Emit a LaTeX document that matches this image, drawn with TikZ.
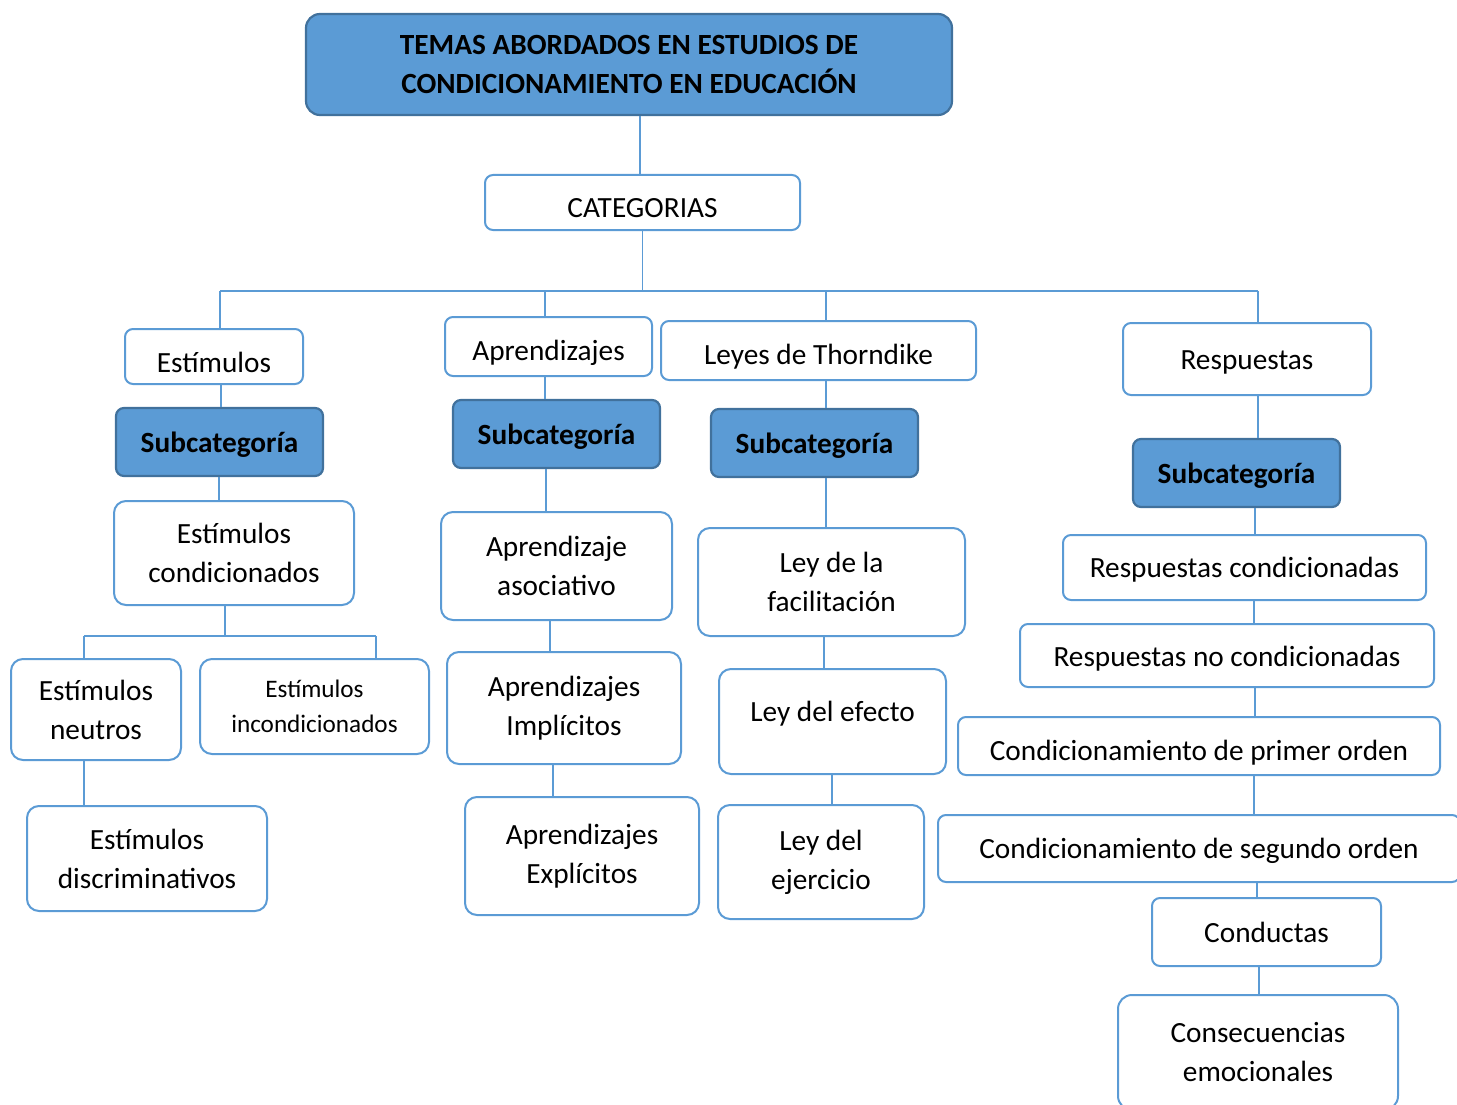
\documentclass[tikz,border=0pt]{standalone}
\usepackage{fontspec}
\setmainfont{Carlito}
\definecolor{boxblue}{HTML}{5B9BD5}
\definecolor{darkblue}{HTML}{41719C}
\begin{document}
\begin{tikzpicture}[x=1pt,y=-1pt]
        \tikzstyle{topic}=[rectangle,rounded corners=8pt,draw=boxblue,line width=2pt,fill=white,align=center,inner sep=0pt,font=\fontsize{29.3}{39}\selectfont]
        \tikzstyle{subcat}=[topic,draw=darkblue,fill=boxblue,line width=2.2pt,font=\fontsize{29.3}{39}\selectfont\bfseries]
        \tikzstyle{th}=[text height=#1,text depth=0pt]
        \tikzstyle{link}=[draw=boxblue,line width=1.3pt]
        \useasboundingbox (0,0) rectangle (1457,1105);
        % title and categories
        \node [subcat,rounded corners=14pt,minimum width=646pt,minimum height=101pt] (title) at (629,64.5) {TEMAS ABORDADOS EN ESTUDIOS DE\\CONDICIONAMIENTO EN EDUCACIÓN};
        \node [topic,th=31pt,minimum width=315pt,minimum height=55pt] (cat) at (642.5,202.5) {CATEGORIAS};
        % column 1
        \node [topic,th=31pt,minimum width=178pt,minimum height=55pt] (est) at (214,356.5) {Estímulos};
        \node [subcat,th=20pt,minimum width=207pt,minimum height=68pt] (sub1) at (219.5,442) {Subcategoría};
        \node [topic,rounded corners=12pt,minimum width=240pt,minimum height=104pt] (ec) at (234,553) {Estímulos\\condicionados};
        \node [topic,rounded corners=12pt,minimum width=170pt,minimum height=101pt] (en) at (96,709.5) {Estímulos\\neutros};
        \node [topic,rounded corners=12pt,minimum width=229pt,minimum height=95pt,font=\fontsize{25.2}{35}\selectfont] (ei) at (314.5,706.5) {Estímulos\\incondicionados};
        \node [topic,rounded corners=12pt,minimum width=240pt,minimum height=105pt] (ed) at (147,858.5) {Estímulos\\discriminativos};
        % column 2
        \node [topic,th=27pt,minimum width=207pt,minimum height=59pt] (apr) at (548.5,346.5) {Aprendizajes};
        \node [subcat,th=20pt,minimum width=207pt,minimum height=68pt] (sub2) at (556.5,434) {Subcategoría};
        \node [topic,rounded corners=12pt,minimum width=231pt,minimum height=108pt] (aa) at (556.5,566) {Aprendizaje\\asociativo};
        \node [topic,rounded corners=12pt,minimum width=234pt,minimum height=112pt] (ai) at (564,708) {Aprendizajes\\Implícitos};
        \node [topic,rounded corners=12pt,minimum width=234pt,minimum height=118pt] (ae) at (582,856) {Aprendizajes\\Explícitos};
        % column 3
        \node [topic,th=27pt,minimum width=315pt,minimum height=59pt] (ley) at (818.5,350.5) {Leyes de Thorndike};
        \node [subcat,th=20pt,minimum width=207pt,minimum height=68pt] (sub3) at (814.5,443) {Subcategoría};
        \node [topic,rounded corners=12pt,minimum width=267pt,minimum height=108pt] (lf) at (831.5,582) {Ley de la\\facilitación};
        \node [topic,th=0pt,rounded corners=12pt,minimum width=227pt,minimum height=105pt] (lef) at (832.5,721.5) {Ley del efecto};
        \node [topic,rounded corners=12pt,minimum width=206pt,minimum height=114pt] (lej) at (821,862) {Ley del\\ejercicio};
        % column 4
        \node [topic,th=20pt,minimum width=248pt,minimum height=72pt] (res) at (1247,359) {Respuestas};
        \node [subcat,th=20pt,minimum width=207pt,minimum height=68pt] (sub4) at (1236.5,473) {Subcategoría};
        \node [topic,th=19pt,minimum width=363pt,minimum height=65pt] (rc) at (1244.5,567.5) {Respuestas condicionadas};
        \node [topic,th=21pt,minimum width=414pt,minimum height=63pt] (rnc) at (1227,655.5) {Respuestas no condicionadas};
        \node [topic,th=28pt,minimum width=482pt,minimum height=58pt] (cpo) at (1199,746) {Condicionamiento de primer orden};
        \node [topic,th=20pt,minimum width=522pt,minimum height=67pt] (cso) at (1199,848.5) {Condicionamiento de segundo orden};
        \node [topic,th=20pt,minimum width=229pt,minimum height=68pt] (con) at (1266.5,932) {Conductas};
        \node [topic,rounded corners=14pt,minimum width=280pt,minimum height=115pt] (ce) at (1258,1052.5) {Consecuencias\\emocionales};
        % tree bars
        \coordinate (b1) at (220,291);
        \coordinate (b2) at (545,291);
        \coordinate (b3) at (826,291);
        \coordinate (b4) at (1258,291);
        \coordinate (e0) at (225,636);
        \coordinate (e1) at (84,636);
        \coordinate (e2) at (376,636);
        \draw[link] ([xshift=11pt]title.south) -- ([xshift=-2.5pt]cat.north);
        \draw[link] (cat.south) -- (cat.south |- b1);
        \draw[link] (b1) -- (b4);
        \draw[link] (b1) -- (b1 |- est.north);
        \draw[link] (b2) -- (b2 |- apr.north);
        \draw[link] (b3) -- (b3 |- ley.north);
        \draw[link] (b4) -- (b4 |- res.north);
        \draw[link] ([xshift=7pt]est.south) -- ([xshift=1.5pt]sub1.north);
        \draw[link] ([xshift=-0.5pt]sub1.south) -- ([xshift=-15pt]ec.north);
        \draw[link] ([xshift=-9pt]ec.south) -- (e0);
        \draw[link] (e1) -- (e2);
        \draw[link] (e1) -- (e1 |- en.north);
        \draw[link] (e2) -- (e2 |- ei.north);
        \draw[link] ([xshift=-12pt]en.south) -- ([xshift=-63pt]ed.north);
        \draw[link] ([xshift=-3.5pt]apr.south) -- ([xshift=-11.5pt]sub2.north);
        \draw[link] ([xshift=-10.5pt]sub2.south) -- ([xshift=-10.5pt]aa.north);
        \draw[link] ([xshift=-6.5pt]aa.south) -- ([xshift=-14pt]ai.north);
        \draw[link] ([xshift=-11pt]ai.south) -- ([xshift=-29pt]ae.north);
        \draw[link] ([xshift=7.5pt]ley.south) -- ([xshift=11.5pt]sub3.north);
        \draw[link] ([xshift=11.5pt]sub3.south) -- ([xshift=-5.5pt]lf.north);
        \draw[link] ([xshift=-7.5pt]lf.south) -- ([xshift=-8.5pt]lef.north);
        \draw[link] ([xshift=-0.5pt]lef.south) -- ([xshift=11pt]lej.north);
        \draw[link] ([xshift=11pt]res.south) -- ([xshift=21.5pt]sub4.north);
        \draw[link] ([xshift=18.5pt]sub4.south) -- ([xshift=10.5pt]rc.north);
        \draw[link] ([xshift=9.5pt]rc.south) -- ([xshift=27pt]rnc.north);
        \draw[link] ([xshift=28pt]rnc.south) -- ([xshift=56pt]cpo.north);
        \draw[link] ([xshift=55pt]cpo.south) -- ([xshift=55pt]cso.north);
        \draw[link] ([xshift=58pt]cso.south) -- ([xshift=-9.5pt]con.north);
        \draw[link] ([xshift=-7.5pt]con.south) -- ([xshift=1pt]ce.north);
\end{tikzpicture}
\end{document}
